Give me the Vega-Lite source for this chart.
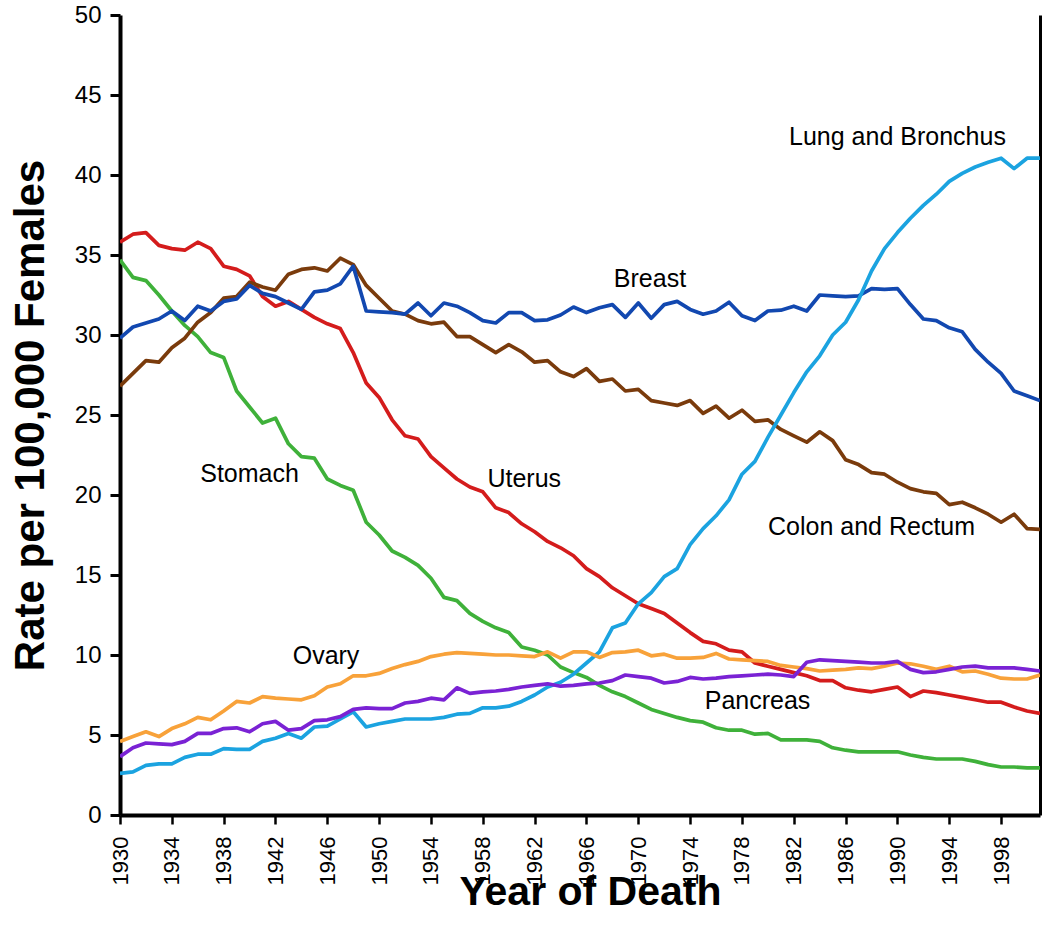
{
  "$schema": "https://vega.github.io/schema/vega-lite/v6.json",
  "width": 920,
  "height": 800,
  "autosize": "none",
  "padding": {"left": 120, "top": 15, "right": 10, "bottom": 121},
  "background": "white",
  "config": {
    "view": {"stroke": null},
    "font": "Liberation Sans",
    "axis": {"labelFont": "Liberation Sans", "labelColor": "black", "grid": false}
  },
  "datasets": {
    "rates": [
      {"year":1930,"Lung":2.6,"Breast":29.8,"Colon":26.8,"Uterus":35.8,"Stomach":34.7,"Ovary":4.6,"Pancreas":3.65},
      {"year":1931,"Lung":2.7,"Breast":30.5,"Colon":27.6,"Uterus":36.3,"Stomach":33.6,"Ovary":4.9,"Pancreas":4.2},
      {"year":1932,"Lung":3.1,"Breast":30.75,"Colon":28.4,"Uterus":36.4,"Stomach":33.4,"Ovary":5.2,"Pancreas":4.5},
      {"year":1933,"Lung":3.2,"Breast":31.0,"Colon":28.3,"Uterus":35.6,"Stomach":32.5,"Ovary":4.9,"Pancreas":4.45},
      {"year":1934,"Lung":3.2,"Breast":31.5,"Colon":29.2,"Uterus":35.4,"Stomach":31.5,"Ovary":5.4,"Pancreas":4.4},
      {"year":1935,"Lung":3.6,"Breast":30.9,"Colon":29.8,"Uterus":35.3,"Stomach":30.6,"Ovary":5.7,"Pancreas":4.6},
      {"year":1936,"Lung":3.8,"Breast":31.8,"Colon":30.8,"Uterus":35.8,"Stomach":29.9,"Ovary":6.1,"Pancreas":5.1},
      {"year":1937,"Lung":3.8,"Breast":31.5,"Colon":31.4,"Uterus":35.4,"Stomach":28.9,"Ovary":5.95,"Pancreas":5.1},
      {"year":1938,"Lung":4.15,"Breast":32.1,"Colon":32.3,"Uterus":34.3,"Stomach":28.6,"Ovary":6.5,"Pancreas":5.4},
      {"year":1939,"Lung":4.1,"Breast":32.25,"Colon":32.4,"Uterus":34.1,"Stomach":26.5,"Ovary":7.1,"Pancreas":5.45},
      {"year":1940,"Lung":4.1,"Breast":33.1,"Colon":33.3,"Uterus":33.7,"Stomach":25.5,"Ovary":7.0,"Pancreas":5.2},
      {"year":1941,"Lung":4.6,"Breast":32.6,"Colon":33.0,"Uterus":32.4,"Stomach":24.5,"Ovary":7.4,"Pancreas":5.7},
      {"year":1942,"Lung":4.8,"Breast":32.4,"Colon":32.8,"Uterus":31.8,"Stomach":24.8,"Ovary":7.3,"Pancreas":5.85},
      {"year":1943,"Lung":5.1,"Breast":32.0,"Colon":33.8,"Uterus":32.1,"Stomach":23.2,"Ovary":7.25,"Pancreas":5.3},
      {"year":1944,"Lung":4.8,"Breast":31.6,"Colon":34.1,"Uterus":31.6,"Stomach":22.4,"Ovary":7.2,"Pancreas":5.4},
      {"year":1945,"Lung":5.5,"Breast":32.7,"Colon":34.2,"Uterus":31.1,"Stomach":22.3,"Ovary":7.45,"Pancreas":5.9},
      {"year":1946,"Lung":5.55,"Breast":32.8,"Colon":34.0,"Uterus":30.7,"Stomach":21.0,"Ovary":8.0,"Pancreas":5.95},
      {"year":1947,"Lung":6.0,"Breast":33.2,"Colon":34.8,"Uterus":30.4,"Stomach":20.6,"Ovary":8.2,"Pancreas":6.15},
      {"year":1948,"Lung":6.45,"Breast":34.3,"Colon":34.4,"Uterus":28.9,"Stomach":20.3,"Ovary":8.7,"Pancreas":6.6},
      {"year":1949,"Lung":5.5,"Breast":31.5,"Colon":33.1,"Uterus":27.0,"Stomach":18.3,"Ovary":8.7,"Pancreas":6.7},
      {"year":1950,"Lung":5.7,"Breast":31.45,"Colon":32.3,"Uterus":26.1,"Stomach":17.5,"Ovary":8.85,"Pancreas":6.65},
      {"year":1951,"Lung":5.85,"Breast":31.4,"Colon":31.5,"Uterus":24.7,"Stomach":16.5,"Ovary":9.15,"Pancreas":6.65},
      {"year":1952,"Lung":6.0,"Breast":31.3,"Colon":31.3,"Uterus":23.7,"Stomach":16.1,"Ovary":9.4,"Pancreas":7.0},
      {"year":1953,"Lung":6.0,"Breast":32.0,"Colon":30.9,"Uterus":23.5,"Stomach":15.6,"Ovary":9.6,"Pancreas":7.1},
      {"year":1954,"Lung":6.0,"Breast":31.2,"Colon":30.7,"Uterus":22.4,"Stomach":14.8,"Ovary":9.9,"Pancreas":7.3},
      {"year":1955,"Lung":6.1,"Breast":32.0,"Colon":30.8,"Uterus":21.7,"Stomach":13.6,"Ovary":10.05,"Pancreas":7.2},
      {"year":1956,"Lung":6.3,"Breast":31.8,"Colon":29.9,"Uterus":21.0,"Stomach":13.4,"Ovary":10.15,"Pancreas":7.95},
      {"year":1957,"Lung":6.35,"Breast":31.4,"Colon":29.9,"Uterus":20.5,"Stomach":12.6,"Ovary":10.1,"Pancreas":7.6},
      {"year":1958,"Lung":6.7,"Breast":30.9,"Colon":29.4,"Uterus":20.2,"Stomach":12.1,"Ovary":10.05,"Pancreas":7.7},
      {"year":1959,"Lung":6.7,"Breast":30.75,"Colon":28.9,"Uterus":19.2,"Stomach":11.7,"Ovary":10.0,"Pancreas":7.75},
      {"year":1960,"Lung":6.8,"Breast":31.4,"Colon":29.4,"Uterus":18.9,"Stomach":11.4,"Ovary":10.0,"Pancreas":7.85},
      {"year":1961,"Lung":7.1,"Breast":31.4,"Colon":28.95,"Uterus":18.2,"Stomach":10.5,"Ovary":9.95,"Pancreas":8.0},
      {"year":1962,"Lung":7.5,"Breast":30.9,"Colon":28.3,"Uterus":17.7,"Stomach":10.3,"Ovary":9.9,"Pancreas":8.1},
      {"year":1963,"Lung":8.0,"Breast":30.95,"Colon":28.4,"Uterus":17.1,"Stomach":10.0,"Ovary":10.2,"Pancreas":8.2},
      {"year":1964,"Lung":8.3,"Breast":31.25,"Colon":27.7,"Uterus":16.7,"Stomach":9.25,"Ovary":9.8,"Pancreas":8.05},
      {"year":1965,"Lung":8.8,"Breast":31.75,"Colon":27.4,"Uterus":16.2,"Stomach":8.9,"Ovary":10.2,"Pancreas":8.1},
      {"year":1966,"Lung":9.5,"Breast":31.4,"Colon":27.9,"Uterus":15.4,"Stomach":8.6,"Ovary":10.2,"Pancreas":8.2},
      {"year":1967,"Lung":10.2,"Breast":31.7,"Colon":27.1,"Uterus":14.9,"Stomach":8.1,"Ovary":9.85,"Pancreas":8.25},
      {"year":1968,"Lung":11.7,"Breast":31.9,"Colon":27.25,"Uterus":14.2,"Stomach":7.7,"Ovary":10.15,"Pancreas":8.4},
      {"year":1969,"Lung":12.0,"Breast":31.1,"Colon":26.5,"Uterus":13.7,"Stomach":7.4,"Ovary":10.2,"Pancreas":8.75},
      {"year":1970,"Lung":13.2,"Breast":32.0,"Colon":26.6,"Uterus":13.2,"Stomach":7.0,"Ovary":10.3,"Pancreas":8.65},
      {"year":1971,"Lung":13.9,"Breast":31.05,"Colon":25.9,"Uterus":12.9,"Stomach":6.6,"Ovary":9.95,"Pancreas":8.55},
      {"year":1972,"Lung":14.9,"Breast":31.9,"Colon":25.75,"Uterus":12.6,"Stomach":6.35,"Ovary":10.05,"Pancreas":8.25},
      {"year":1973,"Lung":15.4,"Breast":32.1,"Colon":25.6,"Uterus":12.0,"Stomach":6.1,"Ovary":9.8,"Pancreas":8.35},
      {"year":1974,"Lung":16.9,"Breast":31.6,"Colon":25.9,"Uterus":11.4,"Stomach":5.9,"Ovary":9.8,"Pancreas":8.6},
      {"year":1975,"Lung":17.9,"Breast":31.3,"Colon":25.1,"Uterus":10.85,"Stomach":5.8,"Ovary":9.85,"Pancreas":8.5},
      {"year":1976,"Lung":18.7,"Breast":31.5,"Colon":25.55,"Uterus":10.7,"Stomach":5.45,"Ovary":10.1,"Pancreas":8.55},
      {"year":1977,"Lung":19.7,"Breast":32.05,"Colon":24.8,"Uterus":10.3,"Stomach":5.3,"Ovary":9.75,"Pancreas":8.65},
      {"year":1978,"Lung":21.3,"Breast":31.2,"Colon":25.3,"Uterus":10.2,"Stomach":5.3,"Ovary":9.7,"Pancreas":8.7},
      {"year":1979,"Lung":22.1,"Breast":30.9,"Colon":24.6,"Uterus":9.5,"Stomach":5.05,"Ovary":9.65,"Pancreas":8.75},
      {"year":1980,"Lung":23.6,"Breast":31.5,"Colon":24.7,"Uterus":9.3,"Stomach":5.1,"Ovary":9.6,"Pancreas":8.8},
      {"year":1981,"Lung":25.0,"Breast":31.55,"Colon":24.1,"Uterus":9.1,"Stomach":4.7,"Ovary":9.35,"Pancreas":8.75},
      {"year":1982,"Lung":26.4,"Breast":31.8,"Colon":23.7,"Uterus":8.9,"Stomach":4.7,"Ovary":9.25,"Pancreas":8.65},
      {"year":1983,"Lung":27.7,"Breast":31.5,"Colon":23.3,"Uterus":8.7,"Stomach":4.7,"Ovary":9.15,"Pancreas":9.55},
      {"year":1984,"Lung":28.7,"Breast":32.5,"Colon":23.95,"Uterus":8.4,"Stomach":4.6,"Ovary":9.0,"Pancreas":9.7},
      {"year":1985,"Lung":30.0,"Breast":32.45,"Colon":23.4,"Uterus":8.4,"Stomach":4.2,"Ovary":9.05,"Pancreas":9.65},
      {"year":1986,"Lung":30.8,"Breast":32.4,"Colon":22.2,"Uterus":7.95,"Stomach":4.05,"Ovary":9.1,"Pancreas":9.6},
      {"year":1987,"Lung":32.2,"Breast":32.45,"Colon":21.9,"Uterus":7.8,"Stomach":3.95,"Ovary":9.2,"Pancreas":9.55},
      {"year":1988,"Lung":34.0,"Breast":32.9,"Colon":21.4,"Uterus":7.7,"Stomach":3.95,"Ovary":9.15,"Pancreas":9.5},
      {"year":1989,"Lung":35.4,"Breast":32.85,"Colon":21.3,"Uterus":7.85,"Stomach":3.95,"Ovary":9.3,"Pancreas":9.5},
      {"year":1990,"Lung":36.4,"Breast":32.9,"Colon":20.8,"Uterus":8.0,"Stomach":3.95,"Ovary":9.5,"Pancreas":9.6},
      {"year":1991,"Lung":37.3,"Breast":31.9,"Colon":20.4,"Uterus":7.4,"Stomach":3.75,"Ovary":9.45,"Pancreas":9.1},
      {"year":1992,"Lung":38.1,"Breast":31.0,"Colon":20.2,"Uterus":7.75,"Stomach":3.6,"Ovary":9.3,"Pancreas":8.9},
      {"year":1993,"Lung":38.8,"Breast":30.9,"Colon":20.1,"Uterus":7.65,"Stomach":3.5,"Ovary":9.1,"Pancreas":8.95},
      {"year":1994,"Lung":39.6,"Breast":30.45,"Colon":19.4,"Uterus":7.5,"Stomach":3.5,"Ovary":9.3,"Pancreas":9.1},
      {"year":1995,"Lung":40.1,"Breast":30.2,"Colon":19.55,"Uterus":7.35,"Stomach":3.5,"Ovary":8.95,"Pancreas":9.25},
      {"year":1996,"Lung":40.5,"Breast":29.1,"Colon":19.2,"Uterus":7.2,"Stomach":3.35,"Ovary":9.0,"Pancreas":9.3},
      {"year":1997,"Lung":40.8,"Breast":28.3,"Colon":18.8,"Uterus":7.05,"Stomach":3.15,"Ovary":8.8,"Pancreas":9.2},
      {"year":1998,"Lung":41.05,"Breast":27.6,"Colon":18.3,"Uterus":7.05,"Stomach":3.0,"Ovary":8.55,"Pancreas":9.2},
      {"year":1999,"Lung":40.4,"Breast":26.5,"Colon":18.8,"Uterus":6.75,"Stomach":3.0,"Ovary":8.5,"Pancreas":9.2},
      {"year":2000,"Lung":41.05,"Breast":26.2,"Colon":17.9,"Uterus":6.5,"Stomach":2.95,"Ovary":8.5,"Pancreas":9.1},
      {"year":2001,"Lung":41.05,"Breast":25.9,"Colon":17.85,"Uterus":6.35,"Stomach":2.95,"Ovary":8.75,"Pancreas":9.0}
    ],
    "labels": [
      {"label":"Lung and Bronchus","year":1990.0,"rate":42.4},
      {"label":"Breast","year":1970.9,"rate":33.5},
      {"label":"Stomach","year":1940.0,"rate":21.3},
      {"label":"Uterus","year":1961.2,"rate":21.0},
      {"label":"Colon and Rectum","year":1988.0,"rate":18.0},
      {"label":"Ovary","year":1945.9,"rate":9.95},
      {"label":"Pancreas","year":1979.2,"rate":7.15}
    ]
  },
  "layer": [
    {
      "data": {"name": "rates"},
      "transform": [{"fold": ["Stomach","Uterus","Colon","Breast","Lung","Ovary","Pancreas"], "as": ["site","rate"]}],
      "mark": {"type": "line", "strokeWidth": 3.7, "clip": true, "strokeJoin": "round"},
      "encoding": {
        "x": {
          "field": "year", "type": "quantitative",
          "scale": {"domain": [1930, 2001], "nice": false, "zero": false},
          "axis": {
            "title": "Year of Death",
            "values": [1930,1931,1932,1933,1934,1935,1936,1937,1938,1939,1940,1941,1942,1943,1944,1945,1946,1947,1948,1949,1950,1951,1952,1953,1954,1955,1956,1957,1958,1959,1960,1961,1962,1963,1964,1965,1966,1967,1968,1969,1970,1971,1972,1973,1974,1975,1976,1977,1978,1979,1980,1981,1982,1983,1984,1985,1986,1987,1988,1989,1990,1991,1992,1993,1994,1995,1996,1997,1998,1999,2000,2001],
            "labelExpr": "(datum.value - 1930) % 4 == 0 ? '' + datum.value : ''",
            "labelAngle": 270,
            "labelFontSize": 22,
            "labelPadding": 12,
            "labelOverlap": false,
            "labelFlush": false,
            "domainColor": "black",
            "domainWidth": 4,
            "tickColor": "black",
            "tickWidth": 2.5,
            "tickSize": 9,
            "titleFont": "Liberation Sans",
            "titleFontWeight": "bold",
            "titleFontSize": 41,
            "titleColor": "black",
            "titleX": 470,
            "titleY": 77,
            "titleAlign": "center",
            "titleBaseline": "middle"
          }
        },
        "y": {
          "field": "rate", "type": "quantitative",
          "scale": {"domain": [0, 50], "nice": false},
          "axis": {
            "title": "Rate per 100,000 Females",
            "values": [0,5,10,15,20,25,30,35,40,45,50],
            "labelFontSize": 24,
            "labelPadding": 9,
            "domainColor": "black",
            "domainWidth": 4,
            "tickColor": "black",
            "tickWidth": 3,
            "tickSize": 10,
            "titleFont": "Liberation Sans",
            "titleFontWeight": "bold",
            "titleFontSize": 42,
            "titleColor": "black",
            "titleAngle": -90,
            "titleX": -90,
            "titleY": 400,
            "titleAlign": "center",
            "titleBaseline": "middle"
          }
        },
        "color": {
          "field": "site", "type": "nominal",
          "scale": {
            "domain": ["Stomach","Uterus","Colon","Breast","Lung","Ovary","Pancreas"],
            "range": ["#3fb13a","#d41c1c","#7a3b0c","#1248b0","#1ba3e0","#f8a23a","#7a22d4"]
          },
          "legend": null
        }
      }
    },
    {
      "data": {"name": "labels"},
      "mark": {"type": "text", "fontSize": 25, "font": "Liberation Sans", "color": "black", "align": "center", "baseline": "middle"},
      "encoding": {
        "x": {"field": "year", "type": "quantitative", "axis": {"title": "Year of Death"}},
        "y": {
          "field": "rate", "type": "quantitative",
          "axis": {"orient": "right", "title": null, "labels": false, "ticks": false, "domainColor": "black", "domainWidth": 3}
        },
        "text": {"field": "label"}
      }
    }
  ],
  "resolve": {"axis": {"y": "independent"}}
}
